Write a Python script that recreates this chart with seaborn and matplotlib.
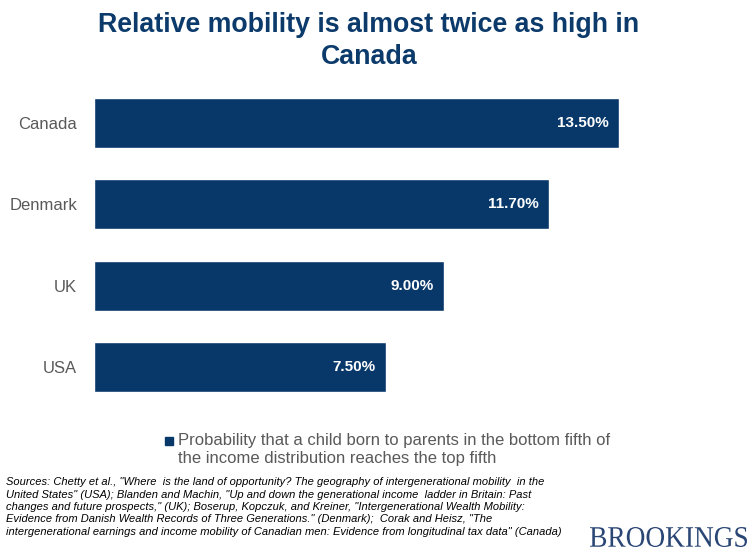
import matplotlib
matplotlib.use("Agg")
import matplotlib.pyplot as plt
import seaborn as sns
import pandas as pd
from matplotlib.textpath import TextPath
from matplotlib.patches import PathPatch
from matplotlib.font_manager import FontProperties
from matplotlib.transforms import Affine2D, IdentityTransform

# Chart data
countries = ["Canada", "Denmark", "UK", "USA"]
probabilities = [13.5, 11.7, 9.0, 7.5]
value_labels = ["13.50%", "11.70%", "9.00%", "7.50%"]

title = "Relative mobility is almost twice as high in\nCanada"
legend_text = ("Probability that a child born to parents in the bottom fifth of\n"
               "the income distribution reaches the top fifth")
sources = ("Sources: Chetty et al., \"Where  is the land of opportunity? The geography of intergenerational mobility  in the\n"
           "United States\" (USA); Blanden and Machin, \"Up and down the generational income  ladder in Britain: Past\n"
           "changes and future prospects,\" (UK); Boserup, Kopczuk, and Kreiner, \"Intergenerational Wealth Mobility:\n"
           "Evidence from Danish Wealth Records of Three Generations.\" (Denmark);  Corak and Heisz, \"The\n"
           "intergenerational earnings and income mobility of Canadian men: Evidence from longitudinal tax data\" (Canada)")

df = pd.DataFrame({"country": countries, "prob": probabilities})

navy = "#08386A"
gray = "#595959"

sns.set_theme(style="white")
plt.rcParams["font.family"] = ["Liberation Sans", "DejaVu Sans"]

W, H = 753, 554
fig = plt.figure(figsize=(W / 100, H / 100), dpi=100)
ax = fig.add_axes([94 / W, 1 - 408 / H, 622 / W, 326 / H])

sns.barplot(data=df, y="country", x="prob", color=navy, width=0.615,
            saturation=1, ax=ax, orient="h")
ax.set_xlim(0, 16)
ax.set_ylim(3.5, -0.5)

for i, (v, lab) in enumerate(zip(probabilities, value_labels)):
    ax.text(v - 0.25, i, lab, ha="right", va="center", color="white",
            fontsize=11, fontweight="bold")

ax.set_xlabel("")
ax.set_ylabel("")
ax.set_xticks([])
ax.tick_params(axis="y", length=0, pad=12, labelsize=12, labelcolor=gray)
sns.despine(ax=ax, left=True, bottom=True)

fig.text(369 / W, 1 - 41 / H, title, ha="center", va="center", color="#0B3A6B",
         fontsize=19.3, fontweight="bold", linespacing=1.35)

# legend
fig.patches.append(plt.Rectangle((165 / W, 1 - 445 / H), 8 / W, 8 / H,
                                 transform=fig.transFigure, color=navy))
fig.text(178 / W, 1 - 449 / H, legend_text, ha="left", va="center",
         color=gray, fontsize=12, linespacing=1.25)

fig.text(6 / W, 1 - 507 / H, sources, ha="left", va="center",
         fontsize=8, style="italic", color="black", linespacing=1.29)

# condensed serif logo text
tp = TextPath((0, 0), "BROOKINGS", size=100,
              prop=FontProperties(family=["Liberation Serif", "DejaVu Serif"]))
bb = tp.get_extents()
x0, x1, ytop, ybot = 590, 747, 527, 547
sx = (x1 - x0) / bb.width
sy = (ybot - ytop) / bb.height
tr = Affine2D().translate(-bb.x0, -bb.y0).scale(sx, sy).translate(x0, H - ybot)
fig.patches.append(PathPatch(tp, transform=tr + IdentityTransform(),
                             color="#2A4675", lw=0))

fig.savefig("out.png", dpi=100)
